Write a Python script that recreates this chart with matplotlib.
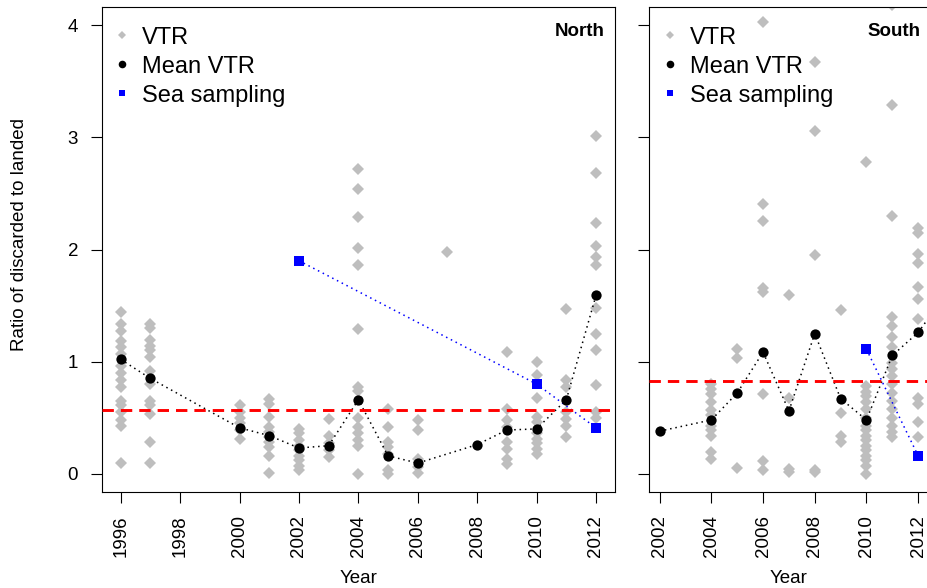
import matplotlib
matplotlib.use("Agg")
import matplotlib.pyplot as plt

plt.rcParams["font.family"] = ["Liberation Sans", "DejaVu Sans"]

# individual VTR ratios per year
north_vtr = {
    1996: [1.44, 1.34, 1.27, 1.18, 1.13, 1.07, 0.96, 0.90, 0.84, 0.77, 0.65, 0.61, 0.55, 0.48, 0.43, 0.10],
    1997: [1.34, 1.30, 1.19, 1.14, 1.10, 1.04, 0.92, 0.80, 0.65, 0.61, 0.53, 0.28, 0.10],
    2000: [0.61, 0.55, 0.50, 0.45, 0.39, 0.31],
    2001: [0.67, 0.62, 0.51, 0.42, 0.37, 0.33, 0.28, 0.24, 0.16, 0.01],
    2002: [0.40, 0.36, 0.30, 0.25, 0.21, 0.16, 0.12, 0.07, 0.03],
    2003: [0.49, 0.34, 0.27, 0.21, 0.15],
    2004: [2.72, 2.54, 2.29, 2.01, 1.86, 1.29, 0.77, 0.74, 0.50, 0.42, 0.36, 0.30, 0.25, 0.00],
    2005: [0.58, 0.42, 0.28, 0.24, 0.18, 0.03, 0.00],
    2006: [0.48, 0.39, 0.13, 0.06, 0.01],
    2007: [1.98],
    2009: [1.09, 0.58, 0.48, 0.42, 0.28, 0.22, 0.13, 0.09],
    2010: [1.00, 0.88, 0.68, 0.51, 0.46, 0.36, 0.31, 0.27, 0.22, 0.18],
    2011: [1.47, 0.84, 0.77, 0.55, 0.49, 0.43, 0.33],
    2012: [3.01, 2.68, 2.24, 2.03, 1.93, 1.86, 1.48, 1.25, 1.10, 0.79, 0.55, 0.50],
}
south_vtr = {
    2004: [0.80, 0.76, 0.71, 0.64, 0.57, 0.52, 0.43, 0.39, 0.34, 0.19, 0.13],
    2005: [1.11, 1.03, 0.05],
    2006: [4.03, 2.41, 2.25, 1.66, 1.62, 0.71, 0.11, 0.03],
    2007: [1.59, 0.68, 0.04, 0.02],
    2008: [3.67, 3.06, 1.95, 0.03, 0.02],
    2009: [1.46, 0.54, 0.34, 0.28],
    2010: [2.78, 0.78, 0.73, 0.69, 0.64, 0.58, 0.50, 0.43, 0.39, 0.34, 0.30, 0.25, 0.21, 0.16, 0.12, 0.07, 0.00],
    2011: [4.18, 3.29, 2.30, 1.40, 1.32, 1.22, 1.13, 0.99, 0.93, 0.87, 0.80, 0.72, 0.65, 0.58, 0.50, 0.43, 0.37, 0.33],
    2012: [2.19, 2.15, 1.96, 1.88, 1.67, 1.56, 1.38, 0.68, 0.62, 0.46, 0.33],
}

north_mean_years = [1996, 1997, 2000, 2001, 2002, 2003, 2004, 2005, 2006, 2008, 2009, 2010, 2011, 2012]
north_mean = [1.02, 0.85, 0.41, 0.34, 0.23, 0.25, 0.66, 0.16, 0.095, 0.26, 0.39, 0.40, 0.66, 1.59]
south_mean_years = [2002, 2004, 2005, 2006, 2007, 2008, 2009, 2010, 2011, 2012, 2013]
south_mean = [0.38, 0.48, 0.72, 1.085, 0.56, 1.25, 0.67, 0.48, 1.055, 1.26, 1.58]

north_sea_years = [2002, 2010, 2012]
north_sea = [1.90, 0.80, 0.41]
south_sea_years = [2010, 2012]
south_sea = [1.11, 0.16]

north_ref = 0.57
south_ref = 0.83

GRAY = "#bebebe"
FS = 13.5


def draw_panel(ax, vtr, mean_years, mean, sea_years, sea, ref, title):
    xs = [yr for yr, vals in vtr.items() for _ in vals]
    ys = [v for vals in vtr.values() for v in vals]
    ax.plot(xs, ys, ls="none", marker="D", ms=6.0, mew=0, color=GRAY, label="VTR", zorder=1)
    ax.plot(mean_years, mean, ls=(0, (1, 2.5)), lw=1.1, color="black", zorder=2)
    ax.plot(mean_years, mean, ls="none", marker="o", ms=7.4, mew=0, color="black",
            label="Mean VTR", zorder=3)
    ax.plot(sea_years, sea, ls=(0, (1, 2.5)), lw=1.1, color="blue", zorder=2)
    ax.plot(sea_years, sea, ls="none", marker="s", ms=6.6, mew=0, color="blue",
            label="Sea sampling", zorder=3)
    ax.axhline(ref, color="red", lw=2.1, ls=(0, (3.9, 2.4)), zorder=4)
    ax.text(0.0, 0.0, title, fontsize=FS, fontweight="bold", ha="right", va="center",
            transform=ax.transAxes)
    ax.set_ylim(-0.16, 4.16)
    ax.set_yticks(range(5))
    ax.tick_params(direction="out", length=8, width=0.8, pad=9, labelsize=FS)
    ax.tick_params(axis="x", labelrotation=90)
    for s in ax.spines.values():
        s.set_linewidth(0.8)
    ax.set_xlabel("Year", fontsize=FS, labelpad=9)
    return ax


W, H = 927, 588
fig = plt.figure(figsize=(W / 100, H / 100), dpi=100)

top, bottom = 7.3, 491.7
ax_n = fig.add_axes([101.7 / W, (H - bottom) / H, (615 - 101.7) / W, (bottom - top) / H])
ax_s = fig.add_axes([649.3 / W, (H - bottom) / H, (928.5 - 649.3) / W, (bottom - top) / H])

draw_panel(ax_n, north_vtr, north_mean_years, north_mean, north_sea_years, north_sea, north_ref, "North")
draw_panel(ax_s, south_vtr, south_mean_years, south_mean, south_sea_years, south_sea, south_ref, "South")

ax_n.set_xlim(1995.36, 2012.64)
ax_n.set_xticks(range(1996, 2013, 2))
ax_s.set_xlim(2001.6, 2012.4)
ax_s.set_xticks(range(2002, 2013, 2))
ax_s.set_yticklabels([])

# panel titles, placed by pixel position
ax_n.texts[0].set_position(((605 - 101.7) / (615 - 101.7), (bottom - 31.7) / (bottom - top)))
ax_s.texts[0].set_position(((920 - 649.3) / (928.5 - 649.3), (bottom - 31.7) / (bottom - top)))

for ax, x0 in ((ax_n, 112.5), (ax_s, 660.5)):
    ax.legend(loc="upper left", bbox_to_anchor=(x0 / W, 1 - 26.5 / H), bbox_transform=fig.transFigure,
              frameon=False, fontsize=17, markerscale=0.74, handlelength=0.8, handletextpad=0.45,
              labelspacing=0.3, borderpad=0, borderaxespad=0)

fig.text(20 / W, 1 - 235 / H, "Ratio of discarded to landed", rotation=90, fontsize=FS,
         ha="center", va="center")

fig.savefig("out.png", dpi=100)
